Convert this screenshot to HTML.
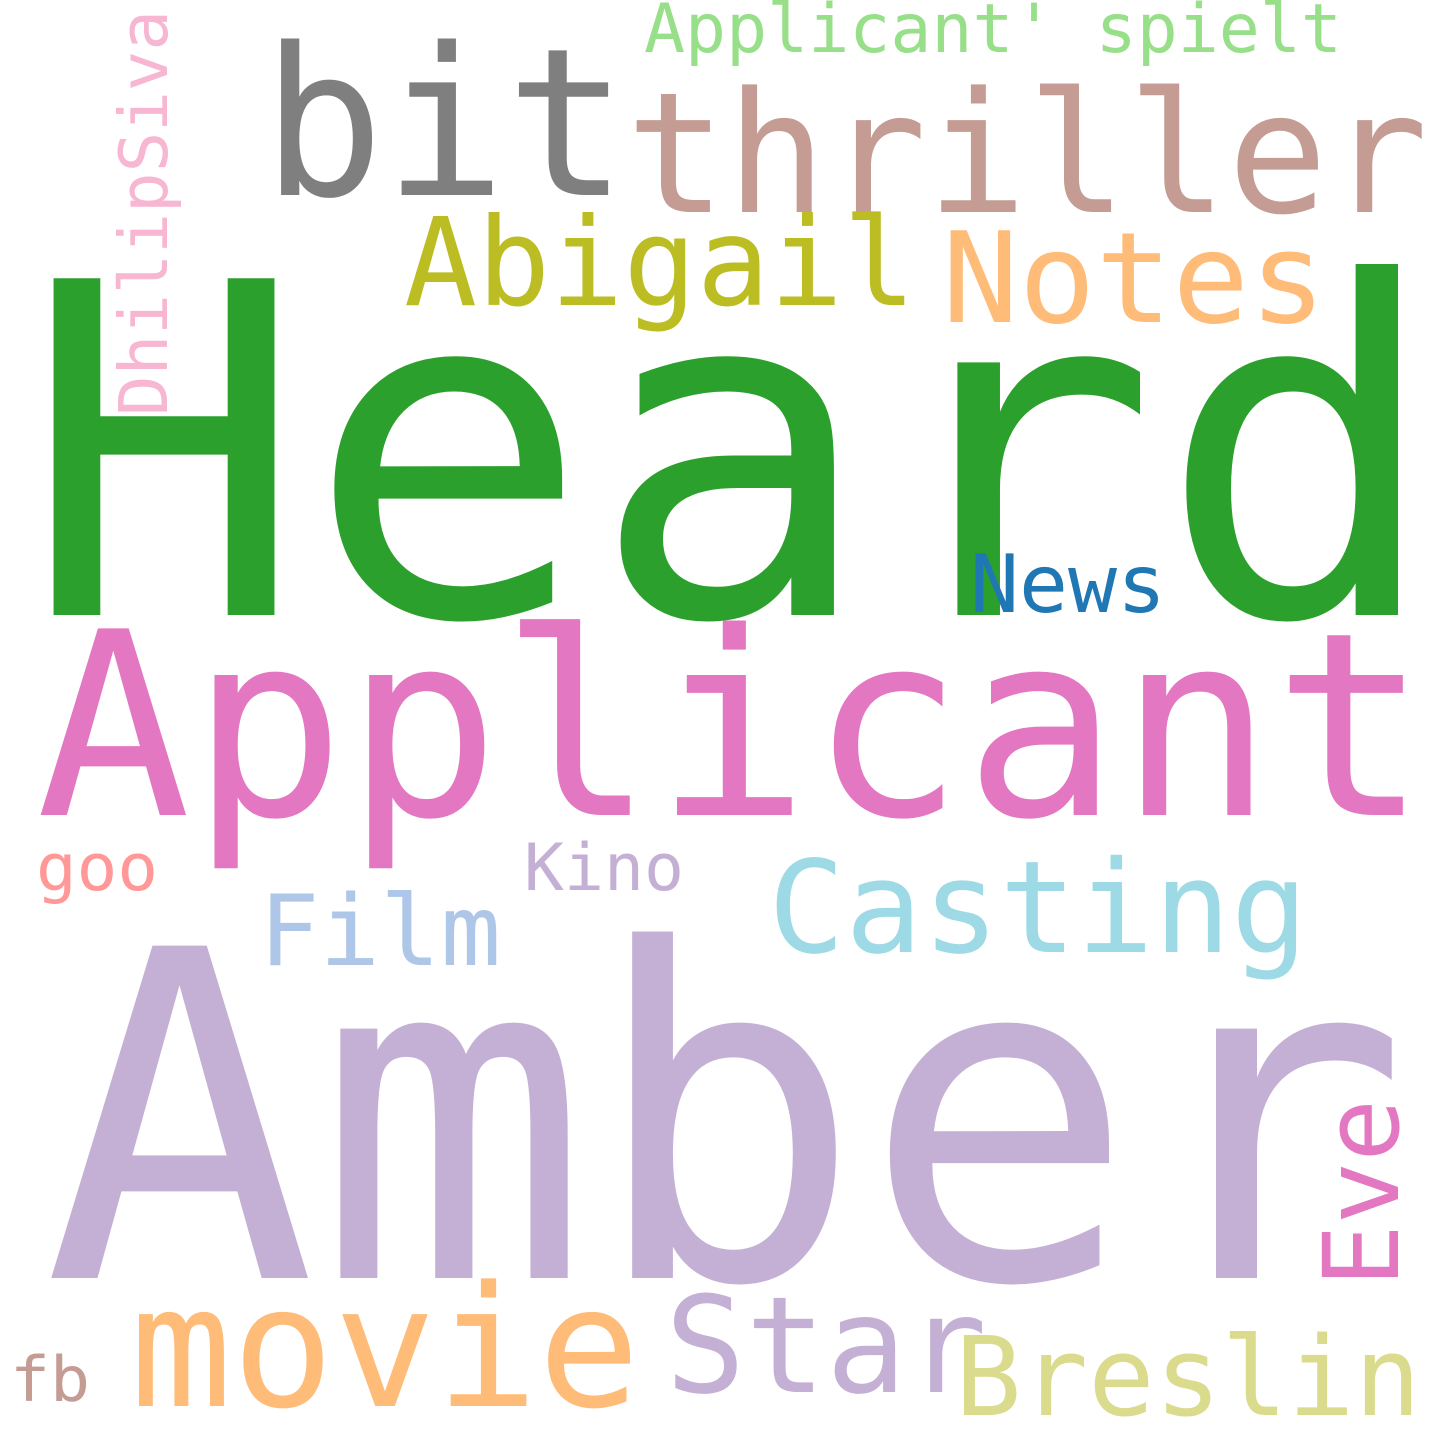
<!DOCTYPE html>
<html><head><meta charset="utf-8"><style>
html,body{margin:0;padding:0;background:#fff;}
svg{display:block;}
text{font-family:"DejaVu Sans Mono","Liberation Mono",monospace;}
</style></head><body>
<svg width="1440" height="1440" viewBox="0 0 1440 1440">
<rect width="1440" height="1440" fill="#fff"/>
<text x="22" y="615" font-size="462" fill="#2ca02c" textLength="1420" lengthAdjust="spacingAndGlyphs">Heard</text>
<text x="43" y="1278" font-size="456" fill="#c5b0d5" textLength="1366" lengthAdjust="spacingAndGlyphs">Amber</text>
<text x="36" y="815" font-size="256" fill="#e377c2" textLength="1392" lengthAdjust="spacingAndGlyphs">Applicant</text>
<text x="262" y="195" font-size="206" fill="#7f7f7f" textLength="366" lengthAdjust="spacingAndGlyphs">bit</text>
<text x="626" y="212" font-size="168" fill="#c49c94" textLength="802" lengthAdjust="spacingAndGlyphs">thriller</text>
<text x="404" y="305" font-size="122" fill="#bcbd22" textLength="512" lengthAdjust="spacingAndGlyphs">Abigail</text>
<text x="942" y="322" font-size="126" fill="#ffbb78" textLength="384" lengthAdjust="spacingAndGlyphs">Notes</text>
<text x="970" y="612" font-size="80" fill="#1f77b4" textLength="196" lengthAdjust="spacingAndGlyphs">News</text>
<text x="644" y="52" font-size="68" fill="#98df8a" textLength="698" lengthAdjust="spacingAndGlyphs">Applicant' spielt</text>
<text transform="translate(167,416) rotate(-90)" x="0" y="0" font-size="67" fill="#f7b6d2" textLength="406" lengthAdjust="spacingAndGlyphs">DhilipSiva</text>
<text x="36" y="890" font-size="65" fill="#ff9896" textLength="122" lengthAdjust="spacingAndGlyphs">goo</text>
<text x="524" y="890" font-size="65" fill="#c5b0d5" textLength="160" lengthAdjust="spacingAndGlyphs">Kino</text>
<text x="259" y="965" font-size="98" fill="#aec7e8" textLength="242" lengthAdjust="spacingAndGlyphs">Film</text>
<text x="768" y="952" font-size="128" fill="#9edae5" textLength="540" lengthAdjust="spacingAndGlyphs">Casting</text>
<text transform="translate(1398,1287) rotate(-90)" x="0" y="0" font-size="104" fill="#e377c2" textLength="188" lengthAdjust="spacingAndGlyphs">Eve</text>
<text x="130" y="1406" font-size="168" fill="#ffbb78" textLength="510" lengthAdjust="spacingAndGlyphs">movie</text>
<text x="665" y="1392" font-size="134" fill="#c5b0d5" textLength="322" lengthAdjust="spacingAndGlyphs">Star</text>
<text x="955" y="1415" font-size="110" fill="#dbdb8d" textLength="466" lengthAdjust="spacingAndGlyphs">Breslin</text>
<text x="10" y="1401" font-size="62" fill="#c49c94" textLength="80" lengthAdjust="spacingAndGlyphs">fb</text>
</svg>
</body></html>
